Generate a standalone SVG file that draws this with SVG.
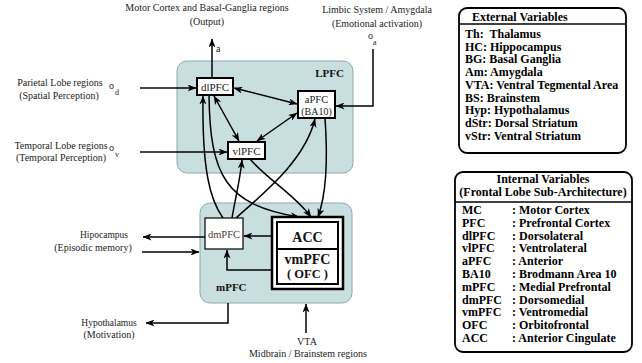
<svg xmlns="http://www.w3.org/2000/svg" width="642" height="363" viewBox="0 0 642 363">
<defs>
<marker id="ah" viewBox="0 0 9 7" refX="8.5" refY="3.5" markerWidth="9" markerHeight="7" markerUnits="userSpaceOnUse" orient="auto-start-reverse">
<path d="M0,0 L9,3.5 L0,7 L2.5,3.5 z" fill="#000"/>
</marker>
<style>
.reg{fill:#c9dfdf;stroke:#8ea8a8;stroke-width:1}
.nd{fill:#fff;stroke:#000;stroke-width:2}
.t{font-family:"Liberation Serif","Times New Roman",serif;font-size:10px;fill:#222}
.n{font-size:11px}
.m{text-anchor:middle}
.b{font-weight:bold;fill:#111}
.lg{font-family:"Liberation Serif","Times New Roman",serif;font-size:12px;font-weight:bold;fill:#000}
.c{fill:none;stroke:#000;stroke-width:1.5;marker-end:url(#ah)}
.d{marker-start:url(#ah)}
</style>
</defs>
<rect width="642" height="363" fill="#fff"/>

<g id="LPFC">
<rect class="reg" x="177" y="61" width="176" height="112" rx="10"/>
<text class="t b" x="344" y="77" text-anchor="end" style="font-size:11px">LPFC</text>
</g>
<g id="mPFC">
<rect class="reg" x="200" y="203" width="152" height="100" rx="10"/>
<text class="t b" x="216" y="291" style="font-size:11px">mPFC</text>
</g>

<g id="connectors">
<path class="c" d="M212 78 L212 39"/>
<path class="c" d="M140 88 L196 88"/>
<path class="c" d="M140 152 L227 152"/>
<path class="c" d="M373 49 L373 106 L336 106"/>
<path class="c d" d="M234 88 L297 104"/>
<path class="c d" d="M297 113 L257 141"/>
<path class="c d" d="M214 96 L239 141"/>
<path class="c" d="M223 218 C210 200, 202 170, 203 96"/>
<path class="c" d="M209 95 C210 175, 225 205, 299 217"/>
<path class="c" d="M250 159 C268 180, 295 195, 311 217"/>
<path class="c" d="M325 118 C328 160, 326 195, 318 217"/>
<path class="c" d="M232 218 C236 195, 240 180, 242 160"/>
<path class="c" d="M236 218 C265 192, 305 160, 315 119"/>
<path class="c" d="M272 236 L244 236"/>
<path class="c" d="M272 270 L227 270 L227 250"/>
<path class="c" d="M205 237 L143 237"/>
<path class="c" d="M142 252 L199 252"/>
<path class="c" d="M228 303 L228 323 L146 323"/>
<path class="c" d="M306 333 L306 304"/>
</g>

<g id="dlPFC">
<rect class="nd" x="197" y="78" width="36" height="17"/>
<text class="t n m" x="215" y="90.5">dlPFC</text>
</g>
<g id="aPFC">
<rect class="nd" x="298" y="91" width="37" height="27"/>
<text class="t m" x="316.5" y="103" style="font-size:10.5px">aPFC</text>
<text class="t m" x="316.5" y="114.5" style="font-size:10px">(BA10)</text>
</g>
<g id="vlPFC">
<rect class="nd" x="228" y="142" width="37" height="17"/>
<text class="t n m" x="246.5" y="154.5">vlPFC</text>
</g>
<g id="dmPFC">
<rect x="205" y="218" width="38" height="31" fill="#fff" stroke="#000" stroke-width="1.2"/>
<text class="t m" x="224" y="238" style="fill:#4a3a30;font-size:10.5px">dmPFC</text>
</g>
<g id="ACC-vmPFC">
<rect x="272" y="217" width="71" height="72" fill="#fff" stroke="#000" stroke-width="2.5"/>
<rect x="277" y="222" width="61" height="62" fill="#fff" stroke="#000" stroke-width="2"/>
<line x1="277" y1="249" x2="338" y2="249" stroke="#000" stroke-width="2"/>
<text class="t b m" x="307.5" y="242" style="font-size:14px">ACC</text>
<text class="t b m" x="307.5" y="264" style="font-size:14px">vmPFC</text>
<text class="t b m" x="307.5" y="278" style="font-size:12.5px">( OFC )</text>
</g>

<g id="external-labels">
<text class="t m" x="207" y="11">Motor Cortex and Basal-Ganglia regions</text>
<text class="t m" x="207" y="25">(Output)</text>
<text class="t" x="216" y="52">a</text>
<text class="t m" x="377" y="13">Limbic System / Amygdala</text>
<text class="t m" x="377" y="27">(Emotional activation)</text>
<text class="t" x="368" y="39">o</text><text class="t" x="373" y="45" style="font-size:8px">a</text>
<text class="t m" x="60" y="86">Parietal Lobe regions</text>
<text class="t m" x="59" y="99">(Spatial Perception)</text>
<text class="t" x="109" y="89">o</text><text class="t" x="115" y="95" style="font-size:8px">d</text>
<text class="t m" x="61" y="149">Temporal Lobe regions</text>
<text class="t m" x="61" y="161">(Temporal Perception)</text>
<text class="t" x="109" y="151">o</text><text class="t" x="115" y="157" style="font-size:8px">v</text>
<text class="t m" x="104" y="238" style="font-size:9.5px">Hipocampus</text>
<text class="t m" x="93" y="251">(Episodic memory)</text>
<text class="t m" x="109" y="326" style="font-size:9.5px">Hypothalamus</text>
<text class="t m" x="109" y="338">(Motivation)</text>
<text class="t m" x="307" y="345">VTA</text>
<text class="t m" x="308" y="357">Midbrain / Brainstem regions</text>
</g>

<g id="external-variables">
<rect x="459" y="8" width="167" height="145" rx="8" fill="#fff" stroke="#000" stroke-width="1.8"/>
<line x1="459" y1="24" x2="626" y2="24" stroke="#000" stroke-width="1.5"/>
<text class="lg" x="472" y="21">External Variables</text>
<text class="lg" x="465" y="38" xml:space="preserve">Th:  Thalamus</text>
<text class="lg" x="465" y="50.7">HC: Hippocampus</text>
<text class="lg" x="465" y="63.4">BG: Basal Ganglia</text>
<text class="lg" x="465" y="76.1">Am: Amygdala</text>
<text class="lg" x="465" y="88.8">VTA: Ventral Tegmental Area</text>
<text class="lg" x="465" y="101.5">BS: Brainstem</text>
<text class="lg" x="465" y="114.2">Hyp: Hypothalamus</text>
<text class="lg" x="465" y="126.9">dStr: Dorsal Striatum</text>
<text class="lg" x="465" y="139.6">vStr: Ventral Striatum</text>
</g>

<g id="internal-variables">
<rect x="455" y="172" width="177" height="180" rx="8" fill="#fff" stroke="#000" stroke-width="1.8"/>
<line x1="455" y1="202" x2="632" y2="202" stroke="#000" stroke-width="1.5"/>
<text class="lg" x="543" y="183" text-anchor="middle">Internal Variables</text>
<text class="lg" x="543" y="196" text-anchor="middle">(Frontal Lobe Sub-Architecture)</text>
<text class="lg" x="462" y="214">MC</text><text class="lg" x="512" y="214">: Motor Cortex</text>
<text class="lg" x="462" y="226.8">PFC</text><text class="lg" x="512" y="226.8">: Prefrontal Cortex</text>
<text class="lg" x="462" y="239.6">dlPFC</text><text class="lg" x="512" y="239.6">: Dorsolateral</text>
<text class="lg" x="462" y="252.4">vlPFC</text><text class="lg" x="512" y="252.4">: Ventrolateral</text>
<text class="lg" x="462" y="265.2">aPFC</text><text class="lg" x="512" y="265.2">: Anterior</text>
<text class="lg" x="462" y="278">BA10</text><text class="lg" x="512" y="278">: Brodmann Area 10</text>
<text class="lg" x="462" y="290.8">mPFC</text><text class="lg" x="512" y="290.8">: Medial Prefrontal</text>
<text class="lg" x="462" y="303.6">dmPFC</text><text class="lg" x="512" y="303.6">: Dorsomedial</text>
<text class="lg" x="462" y="316.4">vmPFC</text><text class="lg" x="512" y="316.4">: Ventromedial</text>
<text class="lg" x="462" y="329.2">OFC</text><text class="lg" x="512" y="329.2">: Orbitofrontal</text>
<text class="lg" x="462" y="342">ACC</text><text class="lg" x="512" y="342">: Anterior Cingulate</text>
</g>
</svg>
